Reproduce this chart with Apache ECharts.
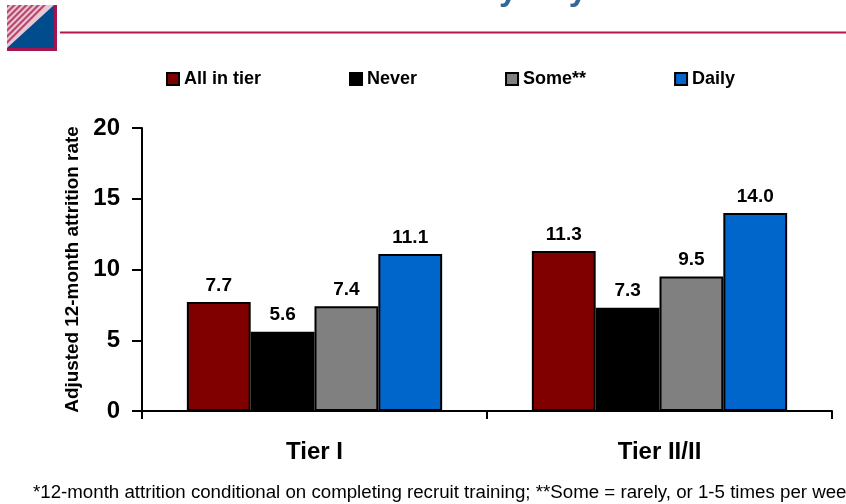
<!DOCTYPE html>
<html><head><meta charset="utf-8">
<style>html,body{margin:0;padding:0;background:#fff;overflow:hidden}#c{width:846px;height:504px}</style>
<script src="https://cdn.jsdelivr.net/npm/echarts@6/dist/echarts.min.js"></script>
</head><body><div id="c"></div>
<script>
const categories = ['Tier I', 'Tier II/II'];
const allInTier = [7.7, 11.3];
const never = [5.6, 7.3];
const some = [7.4, 9.5];
const daily = [11.1, 14.0];
const yTicks = [0, 5, 10, 15, 20];
const yName = 'Adjusted 12-month attrition rate';
const titleTail = 'by Day';
const footnote = '*12-month attrition conditional on completing recruit training; **Some = rarely, or 1-5 times per week';

const FONT = '"Liberation Sans", Arial, sans-serif';
const mk = (name, data, color) => ({
  name, type: 'bar', data, barGap: 0, barCategoryGap: '26%',
  itemStyle: {color, borderColor: '#000', borderWidth: 2},
  label: {show: true, position: 'top', distance: 7, fontFamily: FONT, fontWeight: 'bold', fontSize: 19, color: '#000',
    formatter: p => p.value.toFixed(1)}
});

const stripes = [];
for (const k of [0, 6, 12, 18, 24, 30, 36]) {
  const w = 3;
  stripes.push({type: 'polygon', silent: true, z: 2,
    shape: {points: [[7, 5 + k], [7, 5 + k + w], [7 + k + w, 5], [7 + k, 5]]},
    style: {fill: '#b8466f'}});
}

const chart = echarts.init(document.getElementById('c'), null, {renderer: 'canvas'});
chart.setOption({
  animation: false,
  backgroundColor: '#fff',
  grid: {left: 142, right: 14, top: 128, bottom: 93},
  legend: {
    left: 166, top: 70, padding: 0, itemWidth: 12, itemHeight: 12, itemGap: 88,
    icon: 'rect', selectedMode: false,
    textStyle: {fontFamily: FONT, fontWeight: 'bold', fontSize: 18, color: '#000'},
  },
  xAxis: {
    type: 'category', data: categories,
    axisLine: {lineStyle: {color: '#000', width: 2}},
    axisTick: {show: true, length: 8, alignWithLabel: false, lineStyle: {color: '#000', width: 2}},
    axisLabel: {margin: 29, fontFamily: FONT, fontWeight: 'bold', fontSize: 24, color: '#000'},
    splitLine: {show: false}
  },
  yAxis: {
    type: 'value', min: yTicks[0], max: yTicks[yTicks.length - 1], interval: 5,
    name: yName, nameLocation: 'middle', nameGap: 56, nameRotate: 90,
    nameTextStyle: {fontFamily: FONT, fontWeight: 'bold', fontSize: 18.9, color: '#000'},
    axisLine: {show: true, lineStyle: {color: '#000', width: 2}},
    axisTick: {show: true, length: 10, lineStyle: {color: '#000', width: 2}},
    axisLabel: {margin: 22, fontFamily: FONT, fontWeight: 'bold', fontSize: 24, color: '#000'},
    splitLine: {show: false}
  },
  series: [
    mk('All in tier', allInTier, '#800000'),
    mk('Never', never, '#000000'),
    mk('Some**', some, '#808080'),
    mk('Daily', daily, '#0066cc')
  ],
  graphic: [
    {type: 'rect', silent: true, z: 1, shape: {x: 7, y: 5, width: 50, height: 46}, style: {fill: '#a3154f'}},
    {type: 'rect', silent: true, z: 1, shape: {x: 7, y: 5, width: 47, height: 43}, style: {fill: '#e9c7d3'}},
    ...stripes,
    {type: 'polygon', silent: true, z: 3, shape: {points: [[7, 48], [54, 5], [54, 48]]}, style: {fill: '#004c8c'}},
    {type: 'rect', silent: true, z: 1, shape: {x: 60, y: 31.5, width: 786, height: 2}, style: {fill: '#b5164d'}},
    {type: 'text', silent: true, z: 5, style: {text: titleTail, x: 587, y: -26, align: 'right', verticalAlign: 'top',
      fontFamily: FONT, fontWeight: 'bold', fontSize: 33, fill: '#336699'}},
    {type: 'text', silent: true, z: 5, style: {text: footnote, x: 33, y: 492.5, align: 'left', verticalAlign: 'middle',
      fontFamily: FONT, fontSize: 18.7, fill: '#000'}}
  ]
});
</script></body></html>
